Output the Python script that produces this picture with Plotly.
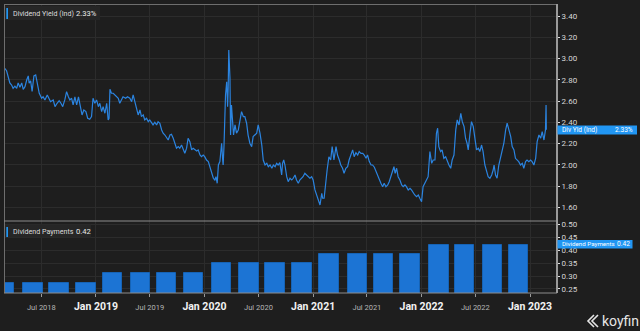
import plotly.graph_objects as go

# ---------------- data ----------------
yield_dates = [
"2018-02-27","2018-03-06","2018-03-17","2018-03-23","2018-03-28","2018-04-03","2018-04-09","2018-04-14","2018-04-20","2018-04-26",
"2018-05-01","2018-05-07","2018-05-13","2018-05-18","2018-05-21","2018-05-26","2018-05-31","2018-06-06","2018-06-12","2018-06-17",
"2018-06-24","2018-07-02","2018-07-07","2018-07-13","2018-07-21","2018-07-28","2018-08-01","2018-08-10","2018-08-16","2018-08-23",
"2018-08-30","2018-09-05","2018-09-11","2018-09-18","2018-09-24","2018-09-30","2018-10-05","2018-10-11","2018-10-16","2018-10-22",
"2018-10-28","2018-11-03","2018-11-10","2018-11-15","2018-11-21","2018-11-28","2018-12-04","2018-12-11","2018-12-17","2018-12-22",
"2018-12-28","2019-01-03","2019-01-09","2019-01-14","2019-01-20","2019-01-25","2019-01-31","2019-02-06","2019-02-11","2019-02-14",
"2019-02-17","2019-02-22","2019-02-28","2019-03-06","2019-03-11","2019-03-17","2019-03-22","2019-03-28","2019-04-02","2019-04-11",
"2019-04-17","2019-04-25","2019-05-01","2019-05-06","2019-05-12","2019-05-18","2019-05-23","2019-05-29","2019-06-03","2019-06-09",
"2019-06-14","2019-06-20","2019-06-26","2019-07-01","2019-07-07","2019-07-12","2019-07-18","2019-07-24","2019-07-29","2019-08-04",
"2019-08-10","2019-08-15","2019-08-21","2019-08-27","2019-09-01","2019-09-07","2019-09-12","2019-09-18","2019-09-23","2019-09-29",
"2019-10-05","2019-10-10","2019-10-16","2019-10-21","2019-10-27","2019-11-02","2019-11-07","2019-11-13","2019-11-19","2019-11-24",
"2019-11-30","2019-12-06","2019-12-11","2019-12-17","2019-12-22","2019-12-28","2020-01-02","2020-01-08","2020-01-14","2020-01-20",
"2020-01-25","2020-01-31","2020-02-05","2020-02-09","2020-02-13","2020-02-17","2020-02-22","2020-02-28","2020-03-02","2020-03-04",
"2020-03-07","2020-03-12","2020-03-16","2020-03-19","2020-03-21","2020-03-23","2020-03-27","2020-03-29","2020-04-01","2020-04-05",
"2020-04-08","2020-04-13","2020-04-18","2020-04-24","2020-04-30","2020-05-05","2020-05-11","2020-05-16","2020-05-22","2020-05-27",
"2020-06-02","2020-06-08","2020-06-13","2020-06-19","2020-06-25","2020-06-30","2020-07-06","2020-07-12","2020-07-17","2020-07-23",
"2020-07-29","2020-08-03","2020-08-09","2020-08-15","2020-08-20","2020-08-26","2020-08-31","2020-09-05","2020-09-11","2020-09-17",
"2020-09-20","2020-09-24","2020-09-28","2020-10-04","2020-10-09","2020-10-15","2020-10-21","2020-10-26","2020-11-01","2020-11-06",
"2020-11-12","2020-11-17","2020-11-23","2020-11-28","2020-12-04","2020-12-10","2020-12-15","2020-12-21","2020-12-27","2021-01-01",
"2021-01-07","2021-01-13","2021-01-18","2021-01-24","2021-01-30","2021-02-02","2021-02-07","2021-02-12","2021-02-17","2021-02-23",
"2021-03-01","2021-03-06","2021-03-12","2021-03-19","2021-03-24","2021-03-30","2021-04-04","2021-04-10","2021-04-15","2021-04-21",
"2021-04-27","2021-05-02","2021-05-08","2021-05-14","2021-05-19","2021-05-25","2021-05-31","2021-06-05","2021-06-11","2021-06-17",
"2021-06-22","2021-06-28","2021-07-03","2021-07-09","2021-07-15","2021-07-20","2021-07-26","2021-08-01","2021-08-06","2021-08-11",
"2021-08-17","2021-08-23","2021-08-28","2021-09-03","2021-09-09","2021-09-14","2021-09-20","2021-09-26","2021-09-30","2021-10-04",
"2021-10-09","2021-10-14","2021-10-20","2021-10-26","2021-10-31","2021-11-06","2021-11-11","2021-11-17","2021-11-23","2021-11-28",
"2021-12-04","2021-12-09","2021-12-15","2021-12-21","2021-12-26","2022-01-01","2022-01-06","2022-01-12","2022-01-18","2022-01-23",
"2022-01-29","2022-02-04","2022-02-09","2022-02-15","2022-02-20","2022-02-24","2022-02-28","2022-03-06","2022-03-11","2022-03-17",
"2022-03-23","2022-03-28","2022-04-03","2022-04-09","2022-04-14","2022-04-20","2022-04-26","2022-05-01","2022-05-07","2022-05-13",
"2022-05-18","2022-05-24","2022-05-29","2022-06-03","2022-06-07","2022-06-13","2022-06-18","2022-06-24","2022-06-30","2022-07-05",
"2022-07-11","2022-07-16","2022-07-22","2022-07-27","2022-08-02","2022-08-08","2022-08-13","2022-08-19","2022-08-25","2022-08-30",
"2022-09-02","2022-09-07","2022-09-12","2022-09-18","2022-09-24","2022-09-29","2022-10-05","2022-10-11","2022-10-16","2022-10-22",
"2022-10-28","2022-11-02","2022-11-08","2022-11-13","2022-11-19","2022-11-24","2022-11-30","2022-12-06","2022-12-11","2022-12-17",
"2022-12-22","2022-12-28","2023-01-03","2023-01-08","2023-01-14","2023-01-20","2023-01-25","2023-01-31","2023-02-06","2023-02-11",
"2023-02-17","2023-02-22","2023-02-24","2023-02-25"]

yield_vals = [
2.91,2.885,2.77,2.75,2.72,2.74,2.72,2.77,2.73,2.77,
2.71,2.735,2.80,2.836,2.767,2.79,2.69,2.836,2.845,2.767,
2.673,2.626,2.64,2.61,2.657,2.617,2.594,2.61,2.547,2.579,
2.603,2.579,2.547,2.61,2.688,2.64,2.61,2.626,2.563,2.64,
2.563,2.64,2.532,2.469,2.516,2.50,2.438,2.428,2.453,2.626,
2.579,2.61,2.547,2.579,2.50,2.547,2.485,2.579,2.422,2.438,
2.71,2.673,2.673,2.657,2.64,2.626,2.579,2.61,2.64,2.626,
2.64,2.626,2.594,2.657,2.594,2.532,2.469,2.516,2.453,2.469,
2.422,2.438,2.406,2.422,2.391,2.375,2.40,2.375,2.406,2.391,
2.328,2.297,2.28,2.25,2.233,2.28,2.287,2.25,2.203,2.156,
2.171,2.156,2.186,2.14,2.108,2.156,2.25,2.218,2.14,2.156,
2.14,2.13,2.14,2.092,2.076,2.092,2.076,2.045,2.03,1.982,
1.935,1.873,1.857,1.888,1.826,1.998,2.03,2.203,2.061,1.998,
2.186,2.657,2.782,2.547,2.72,3.08,2.814,2.28,2.563,2.375,
2.28,2.375,2.297,2.328,2.406,2.50,2.453,2.453,2.391,2.28,
2.203,2.171,2.265,2.28,2.297,2.375,2.297,2.186,2.045,1.998,
2.014,1.982,1.998,1.967,1.998,1.982,2.014,1.998,2.02,1.904,
2.014,2.045,1.998,1.888,1.841,1.873,1.857,1.873,1.904,1.857,
1.826,1.857,1.873,1.888,1.92,1.904,1.888,1.873,1.888,1.857,
1.763,1.716,1.685,1.622,1.732,1.685,1.685,1.857,1.951,2.076,
2.045,2.171,2.045,2.171,2.092,2.045,1.998,1.967,1.92,1.967,
1.982,2.045,2.092,2.14,2.076,2.114,2.092,2.124,2.108,2.108,
2.092,2.061,2.092,2.03,1.998,1.998,1.977,1.935,1.904,1.857,
1.826,1.794,1.826,1.794,1.81,1.841,1.888,1.935,1.982,1.92,
1.967,1.888,1.857,1.81,1.794,1.81,1.794,1.763,1.779,1.763,
1.732,1.716,1.70,1.716,1.685,1.653,1.794,1.826,1.873,1.888,
2.124,2.014,2.045,2.045,2.297,2.344,2.171,2.124,2.14,2.061,
2.076,2.03,1.998,1.967,2.045,2.092,2.328,2.422,2.375,2.485,
2.406,2.359,2.25,2.203,2.14,2.297,2.406,2.359,2.218,2.14,
2.156,2.124,2.186,2.124,1.998,1.935,1.888,1.873,1.904,1.951,
1.998,1.904,1.873,1.998,2.061,2.124,2.203,2.328,2.391,2.328,
2.265,2.171,2.14,2.061,2.045,2.03,1.998,2.014,1.967,2.03,
2.045,2.03,2.045,2.03,1.998,2.061,2.218,2.28,2.25,2.312,
2.233,2.328,2.563,2.33]

div_dates = ["2018-02-26","2018-06-03","2018-08-29","2018-11-29",
             "2019-02-26","2019-05-30","2019-08-27","2019-11-26",
             "2020-02-27","2020-05-30","2020-08-26","2020-11-25",
             "2021-02-24","2021-05-31","2021-08-25","2021-11-23",
             "2022-02-28","2022-05-26","2022-08-27","2022-11-23"]
div_vals = [0.275,0.275,0.275,0.275,
            0.31,0.31,0.31,0.31,
            0.35,0.35,0.35,0.35,
            0.385,0.385,0.385,0.385,
            0.42,0.42,0.42,0.42]

x_tick_vals = ["2018-07-01","2019-01-01","2019-07-01","2020-01-01","2020-07-01",
               "2021-01-01","2021-07-01","2022-01-01","2022-07-01","2023-01-01"]
x_tick_text = ["Jul 2018","Jan 2019","Jul 2019","Jan 2020","Jul 2020",
               "Jan 2021","Jul 2021","Jan 2022","Jul 2022","Jan 2023"]
y1_ticks = [1.6,1.8,2.0,2.2,2.4,2.6,2.8,3.0,3.2,3.4]
y2_ticks = [0.25,0.30,0.35,0.40,0.45,0.50]

yield_label = "Dividend Yield (Ind)"
yield_last = "2.33%"
yield_tag = "Div Yld (Ind)"
div_label = "Dividend Payments"
div_last = "0.42"

# ---------------- styling / layout ----------------
BG = "#1e1e1e"
GRID = "#2c2c2c"
FONT = "Roboto"
LINE_BLUE = "#2b84e0"
BAR_BLUE = "#1c74d4"
TAG_BLUE = "#2196f3"

L, R, T, B = 4, 557, 4, 293
W, H = R - L, B - T
SPLIT = 221

def px(x):
    return (x - L) / W

def py(y):
    return (B - y) / H

split_frac = py(SPLIT)

styled_ticks = []
for t in x_tick_text:
    if t.startswith("Jan"):
        styled_ticks.append("<b>" + t + "</b>")
    else:
        styled_ticks.append("<span style='font-size:7.5px;color:#b5b5b5'>" + t + "</span>")

fig = go.Figure()
fig.add_trace(go.Scatter(x=yield_dates, y=yield_vals, mode="lines",
                         line=dict(color=LINE_BLUE, width=1.2),
                         xaxis="x2", yaxis="y", showlegend=False, hoverinfo="skip"))
fig.add_trace(go.Bar(x=div_dates, y=div_vals, width=65.5 * 86400000,
                     marker=dict(color=BAR_BLUE, line=dict(color="#1663b5", width=1)),
                     xaxis="x", yaxis="y2", showlegend=False, hoverinfo="skip"))

xr = ["2018-02-25 08:00", "2023-04-01 20:00"]
fig.update_layout(
    width=640, height=331,
    margin=dict(l=L, r=640 - R, t=T, b=331 - B, pad=0),
    paper_bgcolor=BG, plot_bgcolor=BG,
    font=dict(family=FONT, color="#d8d8d8", size=8),
    bargap=0,
    xaxis=dict(type="date", range=xr, domain=[0, 1], anchor="y2",
               tickvals=x_tick_vals, ticktext=styled_ticks,
               tickfont=dict(size=10.5, color="#f2f2f2", family=FONT),
               ticks="outside", ticklen=3, tickcolor="#9a9a9a",
               showgrid=True, gridcolor=GRID, gridwidth=1,
               zeroline=False, showline=False),
    xaxis2=dict(type="date", range=xr, domain=[0, 1], anchor="y", matches="x",
                tickvals=x_tick_vals, showticklabels=False,
                showgrid=True, gridcolor=GRID, gridwidth=1,
                zeroline=False, showline=False),
    yaxis=dict(domain=[split_frac, 1], range=[1.471, 3.513], side="right", anchor="x2",
               tickvals=y1_ticks, tickformat=".2f", ticksuffix="%",
               tickfont=dict(size=8, color="#d8d8d8"),
               ticks="outside", ticklen=2, tickcolor="#dddddd",
               showgrid=True, gridcolor=GRID, zeroline=False, showline=False),
    yaxis2=dict(domain=[0, split_frac], range=[0.2345, 0.513], side="right", anchor="x",
                tickvals=y2_ticks, tickformat=".2f",
                tickfont=dict(size=8, color="#d8d8d8"),
                ticks="outside", ticklen=2, tickcolor="#dddddd",
                showgrid=True, gridcolor=GRID, zeroline=False, showline=False),
)

shapes = []
# frame
shapes.append(dict(type="line", xref="paper", yref="paper", x0=px(L), x1=px(R), y0=py(T + 0.5), y1=py(T + 0.5),
                   line=dict(color="#6e6e6e", width=1)))
shapes.append(dict(type="line", xref="paper", yref="paper", x0=px(L + 0.5), x1=px(L + 0.5), y0=py(T), y1=py(B),
                   line=dict(color="#6e6e6e", width=1)))
shapes.append(dict(type="line", xref="paper", yref="paper", x0=px(L), x1=px(R), y0=py(SPLIT), y1=py(SPLIT),
                   line=dict(color="#8c8c8c", width=1)))
shapes.append(dict(type="line", xref="paper", yref="paper", x0=px(L), x1=px(R), y0=py(B), y1=py(B),
                   line=dict(color="#8c8c8c", width=1)))
shapes.append(dict(type="line", xref="paper", yref="paper", x0=px(R), x1=px(R), y0=py(T), y1=py(B),
                   line=dict(color="#9a9a9a", width=2)))

# top-left legend boxes
for (x0, x1, y0, y1) in [(5, 100, 6, 20), (5, 91, 224.5, 237.5)]:
    shapes.append(dict(type="rect", xref="paper", yref="paper", x0=px(x0), x1=px(x1), y0=py(y1), y1=py(y0),
                       fillcolor="#262626", line=dict(width=0), layer="above"))
for (y0, y1) in [(8, 19), (227, 237)]:
    shapes.append(dict(type="rect", xref="paper", yref="paper", x0=px(6.3), x1=px(8), y0=py(y1), y1=py(y0),
                       fillcolor=TAG_BLUE, line=dict(width=0), layer="above"))

# right value tags
shapes.append(dict(type="rect", xref="paper", yref="paper", x0=px(557.5), x1=px(637), y0=py(134.5), y1=py(125.5),
                   fillcolor=TAG_BLUE, line=dict(width=0), layer="above"))
shapes.append(dict(type="rect", xref="paper", yref="paper", x0=px(557.5), x1=px(632.5), y0=py(248.5), y1=py(240),
                   fillcolor=TAG_BLUE, line=dict(width=0), layer="above"))

# koyfin logo glyph
logo_path = ("M {a},{b} L {c},{d} L {e},{f}".format(
    a=px(598), b=py(315), c=px(592), d=py(321), e=px(598), f=py(327)))
logo_path2 = ("M {a},{b} L {c},{d} L {e},{f}".format(
    a=px(594), b=py(315), c=px(588), d=py(321), e=px(594), f=py(327)))
for p in (logo_path, logo_path2):
    shapes.append(dict(type="path", xref="paper", yref="paper", path=p,
                       line=dict(color="#e6e6e6", width=1.6)))
fig.update_layout(shapes=shapes)

ann = []
def text(x, y, s, size=8, color="#dcdcdc", anchor="left"):
    ann.append(dict(xref="paper", yref="paper", x=px(x), y=py(y), text=s, showarrow=False,
                    xanchor=anchor, yanchor="middle", font=dict(size=size, color=color, family=FONT)))

text(10.5, 13.5, yield_label, 7.1, "#dcdcdc")
text(74, 13.5, yield_last, 7.6, "#e8e8e8")
text(10.5, 231, div_label, 7.1, "#dcdcdc")
text(74, 231, div_last, 7.6, "#e8e8e8")
text(559.5, 130, yield_tag, 6.6, "#ffffff")
text(634.5, 130, yield_last, 6.6, "#ffffff", anchor="right")
text(559.5, 244.3, div_label, 6.2, "#ffffff")
text(631.5, 244.3, div_last, 6.6, "#ffffff", anchor="right")
text(600, 321, "koyfin", 14, "#e6e6e6")
fig.update_layout(annotations=ann)

fig.write_html("out.html")
